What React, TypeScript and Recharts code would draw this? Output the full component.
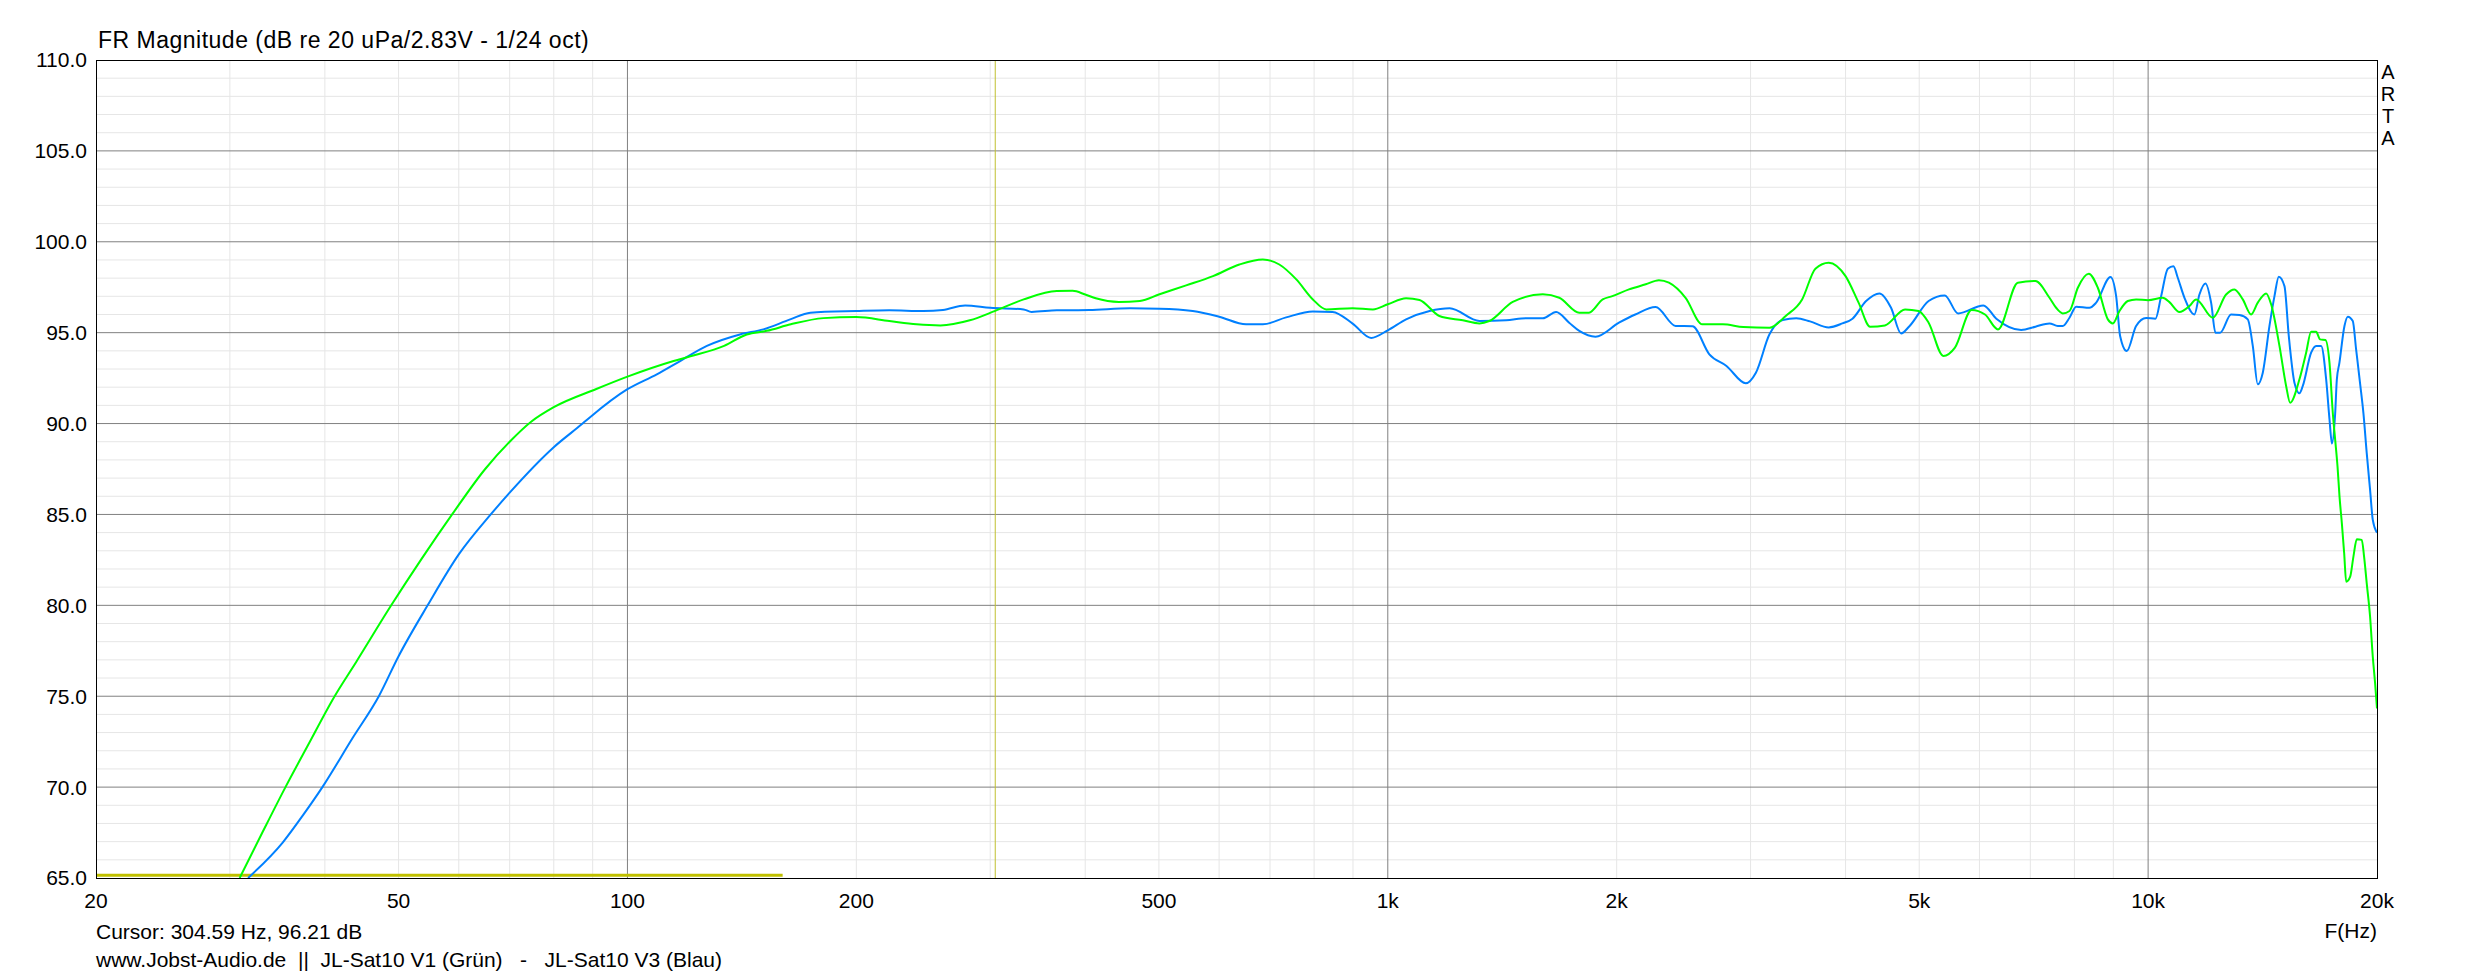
import React from 'react';
import { LineChart, Line, XAxis, YAxis, CartesianGrid, ReferenceLine } from 'recharts';

// JL-Sat10 V1 (green) frequency response
const v1Freq = [30.9, 33.1, 35.5, 38.0, 41.2, 44.0, 48.9, 53.5, 58.8, 65.0, 70, 74.7, 80, 91, 100, 115, 121, 134, 143.5, 152.5, 164, 181, 200, 221, 240, 258, 282, 304.6, 332, 367, 385, 400, 413, 443, 472, 501, 543, 589, 638, 685, 720, 758, 797, 830, 899, 956, 1000, 1057, 1101, 1169, 1255, 1320, 1360, 1460, 1599, 1681, 1786, 1839, 1917, 1974, 2076, 2184, 2273, 2343, 2464, 2592, 2759, 2935, 3177, 3337, 3507, 3651, 3801, 4000, 4161, 4309, 4507, 4790, 4990, 5144, 5379, 5571, 5860, 6102, 6347, 6739, 7110, 7418, 7568, 7723, 7881, 8083, 8354, 8587, 8852, 8986, 9169, 9403, 9643, 10000, 10454, 10667, 10994, 11334, 11564, 12163, 12664, 12988, 13320, 13661, 13939, 14296, 14514, 14885, 15188, 15373, 15814, 16137, 16383, 16633, 16836, 17110, 17319, 17500, 17621, 17747, 17854, 17981, 18108, 18218, 18440, 18622, 18812, 19098, 19233, 19388, 19586, 19746, 19886, 20000];
const v1Db = [65.0, 67.5, 70.0, 72.3, 75.0, 76.9, 80.0, 82.5, 85.0, 87.5, 89.0, 90.1, 90.9, 91.9, 92.58, 93.44, 93.7, 94.27, 94.9, 95.1, 95.46, 95.8, 95.86, 95.64, 95.46, 95.4, 95.68, 96.2, 96.83, 97.29, 97.3, 97.1, 96.89, 96.69, 96.74, 97.11, 97.6, 98.11, 98.75, 99.03, 98.75, 97.93, 96.83, 96.28, 96.34, 96.28, 96.56, 96.9, 96.8, 95.92, 95.68, 95.51, 95.64, 96.69, 97.11, 96.92, 96.1, 96.1, 96.83, 97.01, 97.38, 97.66, 97.89, 97.75, 96.92, 95.46, 95.46, 95.31, 95.27, 95.92, 96.83, 98.52, 98.85, 98.11, 96.65, 95.33, 95.4, 96.28, 96.19, 95.55, 93.72, 94.18, 96.25, 96.0, 95.18, 97.75, 97.84, 96.92, 96.37, 96.06, 96.19, 97.47, 98.24, 97.47, 95.73, 95.51, 96.19, 96.74, 96.83, 96.79, 96.92, 96.68, 96.14, 96.47, 96.83, 95.82, 97.1, 97.38, 96.83, 96.0, 96.65, 97.16, 96.56, 94.27, 92.07, 91.15, 92.44, 93.9, 95.05, 95.05, 94.63, 94.6, 93.35, 90.5, 89.1, 87.63, 85.98, 84.51, 82.86, 81.3, 81.58, 82.68, 83.63, 83.6, 82.68, 81.21, 79.37, 77.17, 75.71, 74.33];

// JL-Sat10 V3 (blue) frequency response
const v3Freq = [31.7, 35.2, 37.5, 39.7, 43.5, 47.1, 50, 54.6, 60, 66.1, 70, 80, 87.3, 89.3, 100, 109.3, 117.3, 127.2, 140.6, 150.9, 163.7, 174, 200, 221, 245, 260, 278, 300, 332, 340, 367, 405, 458, 501, 554, 600, 651, 685, 735, 797, 846, 899, 951, 1000, 1057, 1135, 1206, 1320, 1431, 1520, 1599, 1665, 1732, 1786, 1876, 2014, 2116, 2250, 2391, 2516, 2648, 2789, 2957, 3049, 3177, 3307, 3446, 3592, 3801, 3962, 4085, 4257, 4432, 4591, 4732, 4857, 5144, 5402, 5624, 6072, 6315, 6810, 7110, 7418, 7606, 7723, 7881, 8042, 8371, 8544, 8923, 9077, 9187, 9374, 9643, 9940, 10225, 10402, 10614, 10797, 10940, 11164, 11506, 11681, 11896, 12102, 12262, 12437, 12857, 13186, 13523, 13730, 13939, 14152, 14441, 14662, 14855, 15112, 15311, 15576, 15814, 15975, 16383, 16633, 16887, 17145, 17319, 17450, 17621, 17708, 17850, 18123, 18307, 18586, 18774, 19002, 19194, 19388, 19586, 19746, 20000];
const v3Db = [65.0, 66.95, 68.5, 70.0, 72.7, 75.0, 77.2, 80.0, 82.8, 85.0, 86.2, 88.7, 90.0, 90.35, 91.89, 92.71, 93.44, 94.27, 94.9, 95.18, 95.73, 96.1, 96.19, 96.23, 96.19, 96.25, 96.5, 96.37, 96.28, 96.14, 96.23, 96.25, 96.34, 96.32, 96.19, 95.88, 95.46, 95.46, 95.84, 96.17, 96.14, 95.5, 94.71, 95.13, 95.73, 96.19, 96.34, 95.64, 95.68, 95.79, 95.79, 96.14, 95.55, 95.1, 94.78, 95.55, 96.0, 96.41, 95.37, 95.35, 93.81, 93.17, 92.22, 92.8, 94.91, 95.7, 95.79, 95.62, 95.29, 95.51, 95.77, 96.74, 97.16, 96.37, 94.96, 95.37, 96.74, 97.05, 96.06, 96.5, 95.77, 95.15, 95.33, 95.51, 95.37, 95.37, 95.82, 96.43, 96.37, 96.65, 98.06, 97.01, 94.82, 93.99, 95.37, 95.81, 95.77, 97.01, 98.52, 98.66, 98.02, 96.92, 96.0, 97.1, 97.71, 96.65, 95.0, 95.0, 96.0, 95.97, 95.73, 94.27, 92.16, 92.8, 95.37, 97.01, 98.08, 97.56, 94.82, 92.25, 91.67, 92.07, 93.9, 94.27, 94.27, 92.44, 90.24, 88.9, 90.57, 92.4, 93.35, 95.37, 95.88, 95.64, 94.08, 92.2, 90.57, 88.37, 86.35, 84.7, 84.0];

// cursor
const cursorFreq = 304.59;
const cursorBarFreq = [20, 160];
const cursorBarDb = [65.15, 65.15];

// axes
const xTicks = [20, 50, 100, 200, 500, 1000, 2000, 5000, 10000, 20000];
const xTickLabels = ['20', '50', '100', '200', '500', '1k', '2k', '5k', '10k', '20k'];
const yTicks = [65, 70, 75, 80, 85, 90, 95, 100, 105, 110];
const xMajorGrid = [100, 1000, 10000];
const xMinorGrid = [30, 40, 50, 60, 70, 80, 90, 200, 300, 400, 500, 600, 700, 800, 900, 2000, 3000, 4000, 5000, 6000, 7000, 8000, 9000];
const yMajorGrid = [70, 75, 80, 85, 90, 95, 100, 105];
const yMinorGrid = [66, 67, 68, 69, 71, 72, 73, 74, 76, 77, 78, 79, 81, 82, 83, 84, 86, 87, 88, 89, 91, 92, 93, 94, 96, 97, 98, 99, 101, 102, 103, 104, 106, 107, 108, 109];

const v1Data = v1Freq.map((f, i) => ({ f, db: v1Db[i] }));
const v3Data = v3Freq.map((f, i) => ({ f, db: v3Db[i] }));
const cursorBarData = cursorBarFreq.map((f, i) => ({ f, db: cursorBarDb[i] }));

const FONT = '"Liberation Sans", Arial, sans-serif';
const W = 2473;
const H = 978;
const PL = 96, PT = 60, PR = 2377, PB = 878;

const fmtX = (v: number) => {
  const i = xTicks.indexOf(v);
  return i >= 0 ? xTickLabels[i] : String(v);
};

export default function App() {
  return (
    <div style={{ position: 'absolute', left: 0, top: 0, width: W, height: H, background: '#fff', overflow: 'hidden' }}>
      <LineChart width={W} height={H} margin={{ top: PT, right: W - PR, bottom: H - PB - 40, left: PL - 80 }}>
        <CartesianGrid stroke="#e6e6e6" strokeWidth={1} horizontalValues={yMinorGrid} verticalValues={xMinorGrid} />
        <CartesianGrid stroke="#808080" strokeWidth={1} horizontalValues={yMajorGrid} verticalValues={xMajorGrid} />
        <XAxis
          dataKey="f"
          type="number"
          scale="log"
          domain={[20, 20000]}
          allowDataOverflow
          ticks={xTicks}
          interval={0}
          tickFormatter={fmtX}
          axisLine={false}
          tickLine={false}
          tickSize={0}
          tickMargin={15}
          height={40}
          tick={{ fill: '#000', fontSize: 21, fontFamily: FONT }}
        />
        <YAxis
          type="number"
          domain={[65, 110]}
          allowDataOverflow
          ticks={yTicks}
          interval={0}
          tickFormatter={(v: number) => v.toFixed(1)}
          axisLine={false}
          tickLine={false}
          tickSize={0}
          tickMargin={9}
          width={80}
          tick={{ fill: '#000', fontSize: 21, fontFamily: FONT }}
        />
        <ReferenceLine x={cursorFreq} stroke="#c0c030" strokeWidth={1} />
        <Line data={cursorBarData} dataKey="db" stroke="#c0c000" strokeWidth={3} dot={false} isAnimationActive={false} type="linear" />
        <Line data={v3Data} dataKey="db" stroke="#0080ff" strokeWidth={2} dot={false} isAnimationActive={false} type="monotone" />
        <Line data={v1Data} dataKey="db" stroke="#00ff00" strokeWidth={2} dot={false} isAnimationActive={false} type="monotone" />
      </LineChart>
      <div style={{ position: 'absolute', left: PL, top: PT, width: PR - PL + 1, height: PB - PT + 1, border: '1px solid #000', boxSizing: 'border-box', pointerEvents: 'none' }} />
      <svg width={W} height={H} style={{ position: 'absolute', left: 0, top: 0, pointerEvents: 'none' }}>
        <g fontFamily={FONT} fill="#000" style={{ whiteSpace: 'pre' }}>
          <text x={98} y={48} fontSize={23} letterSpacing={0.5}>FR Magnitude (dB re 20 uPa/2.83V - 1/24 oct)</text>
          <text x={PR} y={938} fontSize={21} textAnchor="end">F(Hz)</text>
          <text x={96} y={939} fontSize={21}>Cursor: 304.59 Hz, 96.21 dB</text>
          <text x={96} y={967} fontSize={21} xmlSpace="preserve">{'www.Jobst-Audio.de  ||  JL-Sat10 V1 (Grün)   -   JL-Sat10 V3 (Blau)'}</text>
          <text x={2388} y={79} fontSize={20} textAnchor="middle">A</text>
          <text x={2388} y={101} fontSize={20} textAnchor="middle">R</text>
          <text x={2388} y={123} fontSize={20} textAnchor="middle">T</text>
          <text x={2388} y={145} fontSize={20} textAnchor="middle">A</text>
        </g>
      </svg>
    </div>
  );
}
